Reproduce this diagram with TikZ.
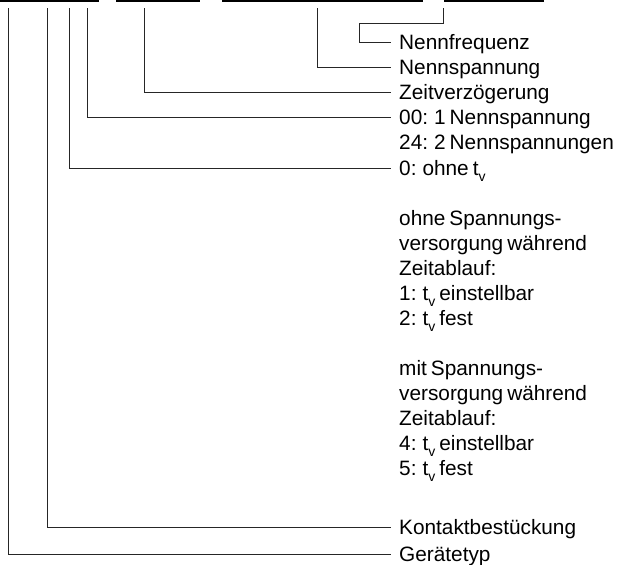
\documentclass[tikz,border=0pt]{standalone}
\usepackage{fontspec}
\setmainfont[WordSpace=0.7]{Liberation Sans}
\newcommand\tvsub{t\raisebox{-6pt}{\fontsize{14}{14}\selectfont v}}
\begin{document}
\begin{tikzpicture}[x=1pt,y=-1pt,
  wire/.style={line width=1pt, draw=black!85},
  bar/.style={line width=1.6pt, draw=black},
  lbl/.style={anchor=west, inner sep=0pt, text height=14.9pt, text depth=0pt,
    font=\fontsize{20.8}{25}\selectfont},
]
\useasboundingbox (0,0) rectangle (622,565);
% top bars
\draw[bar] (0,1) -- (99,1);
\draw[bar] (116,1) -- (200,1);
\draw[bar] (222,1) -- (423,1);
\draw[bar] (444,1) -- (544,1);
% labels
\node[lbl] (NF) at (399,42) {Nennfrequenz};
\node[lbl] (NS) at (399,67) {Nennspannung};
\node[lbl] (ZV) at (399,92) {Zeitverzögerung};
\node[lbl] (A0) at (399,117) {00: 1 Nennspannung};
\node[lbl] (A1) at (399,142) {24: 2 Nennspannungen};
\node[lbl] (B0) at (399,168) {0: ohne \tvsub};
\node[lbl] (B1) at (399,218) {ohne Spannungs-};
\node[lbl] (B2) at (399,243) {versorgung während};
\node[lbl] (B3) at (399,268) {Zeitablauf:};
\node[lbl] (B4) at (399,293) {1: \tvsub{} einstellbar};
\node[lbl] (B5) at (399,318) {2: \tvsub{} fest};
\node[lbl] (B6) at (399,368) {mit Spannungs-};
\node[lbl] (B7) at (399,393) {versorgung während};
\node[lbl] (B8) at (399,418) {Zeitablauf:};
\node[lbl] (B9) at (399,443) {4: \tvsub{} einstellbar};
\node[lbl] (B10) at (399,468) {5: \tvsub{} fest};
\node[lbl] (KB) at (399,527) {Kontaktbestückung};
\node[lbl] (GT) at (399,554) {Gerätetyp};
% connector tops
\coordinate (tGT) at (8,8);
\coordinate (tKB) at (47,8);
\coordinate (tB) at (69,8);
\coordinate (tA) at (87,8);
\coordinate (tZV) at (144,8);
\coordinate (tNS) at (317,8);
\coordinate (tNF) at (443,8);
\coordinate (jNF) at (359,23);
% connectors
\draw[wire] (tNF) |- (jNF) |- ([xshift=-8pt]NF.west);
\draw[wire] (tNS) |- ([xshift=-8pt]NS.west);
\draw[wire] (tZV) |- ([xshift=-8pt]ZV.west);
\draw[wire] (tA) |- ([xshift=-8pt]A0.west);
\draw[wire] (tB) |- ([xshift=-8pt]B0.west);
\draw[wire] (tKB) |- ([xshift=-8pt]KB.west);
\draw[wire] (tGT) |- ([xshift=-8pt]GT.west);
\end{tikzpicture}
\end{document}
